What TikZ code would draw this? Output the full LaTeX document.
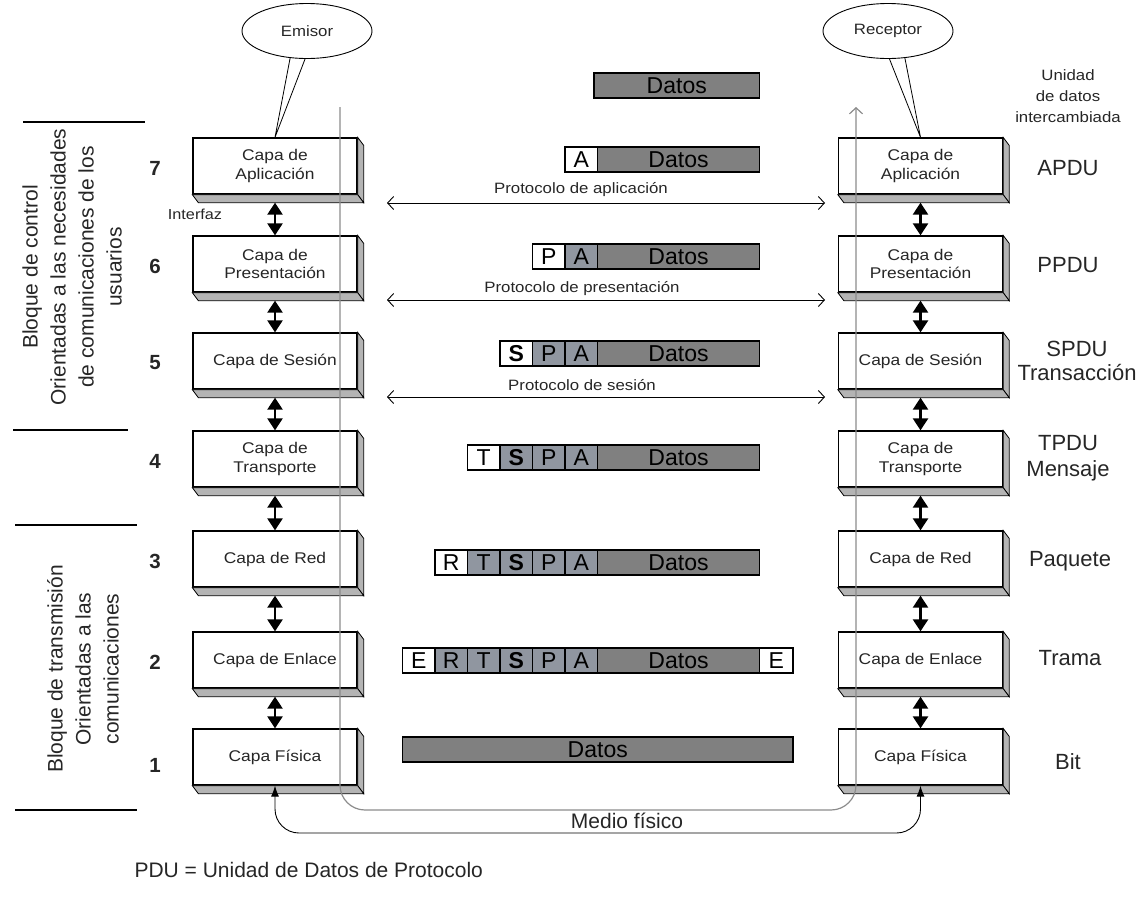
\documentclass[tikz,border=0pt]{standalone}
\usepackage{fontspec}
\setmainfont{Liberation Sans}
\newfontfamily\widefont[FakeStretch=1.12]{Liberation Sans}
\usetikzlibrary{shapes.geometric,arrows.meta,calc}

\definecolor{datagray}{HTML}{808080}
\definecolor{hdrgray}{HTML}{9096A0}
\definecolor{facegray}{HTML}{B4B4B4}
\definecolor{linegray}{HTML}{8C8C8C}
\definecolor{txtgray}{HTML}{262626}

% one OSI layer drawn as a slab: white front face, grey right and bottom faces
\newcommand\layer[4]{%
  \node[layerbox] (#1) at (#2,#3) {#4};
  \filldraw[fill=facegray, draw=black, line width=0.8pt]
    (#1.north east) -- ++(6,8) -- ([shift={(6,8)}]#1.south east) -- (#1.south east) -- cycle;
  \filldraw[fill=facegray, draw=black, line width=0.8pt]
    (#1.south west) -- (#1.south east) -- ([shift={(6,8)}]#1.south east) -- ([shift={(6,8)}]#1.south west) -- cycle;
}
% one field of a protocol data unit: name, left, right, y, fill, text
\newcommand\cell[6]{%
  \node[cellbox, fill=#5, minimum width={#3pt-#2pt}] (#1) at ({(#2+#3)/2},#4) {#6};}

\begin{document}
\begin{tikzpicture}[x=1pt,y=-1pt,
  layerbox/.style={draw=black, line width=1.3pt, fill=white, minimum width=164pt,
    minimum height=56pt, inner sep=0pt, align=center, text=txtgray,
    font=\widefont\fontsize{15.5}{18.5}\selectfont},
  cellbox/.style={draw=black, line width=1.2pt, minimum height=25pt, inner sep=0pt,
    text=black, font=\fontsize{23}{23}\selectfont},
  dbl/.style={line width=2.4pt, {Triangle[width=15pt,length=12pt]}-{Triangle[width=15pt,length=12pt]}},
  proto/.style={line width=0.9pt, {Straight Barb[length=6pt,width=13pt]}-{Straight Barb[length=6pt,width=13pt]}},
  protolabel/.style={text=txtgray, font=\widefont\fontsize{15}{18}\selectfont},
  grayline/.style={draw=linegray, line width=1.2pt},
  pdu/.style={text=txtgray, font=\fontsize{22}{24}\selectfont, align=center},
  num/.style={text=txtgray, font=\bfseries\fontsize{20.5}{22}\selectfont},
  bloque/.style={text=txtgray, rotate=90, align=center, font=\fontsize{21}{28}\selectfont},
  callout/.style={draw=black, ellipse, line width=0.9pt, minimum width=130pt,
    minimum height=55pt, inner sep=0pt, text=txtgray, font=\widefont\fontsize{15}{18}\selectfont}
]
\useasboundingbox (0,0) rectangle (1148,898);

% ---- sender stack
\layer{L7}{275}{166}{Capa de\\Aplicación}
\layer{L6}{275}{264}{Capa de\\Presentación}
\layer{L5}{275}{361}{Capa de Sesión}
\layer{L4}{275}{459}{Capa de\\Transporte}
\layer{L3}{275}{559}{Capa de Red}
\layer{L2}{275}{660}{Capa de Enlace}
\layer{L1}{275}{757}{Capa Física}

% ---- receiver stack
\layer{R7}{920.5}{166}{Capa de\\Aplicación}
\layer{R6}{920.5}{264}{Capa de\\Presentación}
\layer{R5}{920.5}{361}{Capa de Sesión}
\layer{R4}{920.5}{459}{Capa de\\Transporte}
\layer{R3}{920.5}{559}{Capa de Red}
\layer{R2}{920.5}{660}{Capa de Enlace}
\layer{R1}{920.5}{757}{Capa Física}

% interfaces between adjacent layers
\foreach \a/\b in {7/6,6/5,5/4,4/3,3/2,2/1}{
  \draw[dbl] ([yshift=-8pt]L\a.south) -- (L\b.north);
  \draw[dbl] ([yshift=-8pt]R\a.south) -- (R\b.north);
}
\node[text=txtgray, font=\widefont\fontsize{14.5}{16}\selectfont] (interfaz) at (195,214) {Interfaz};

% ---- layer numbers
\node[num] (n7) at (155,168) {7};
\node[num] (n6) at (155,266) {6};
\node[num] (n5) at (155,363) {5};
\node[num] (n4) at (155,461) {4};
\node[num] (n3) at (155,561) {3};
\node[num] (n2) at (155,662) {2};
\node[num] (n1) at (155,765) {1};

% ---- functional blocks on the left
\draw[line width=1.3pt] (23,122) -- (145,122);
\draw[line width=1.3pt] (13,430) -- (128,430);
\draw[line width=1.3pt] (15,525) -- (137,525);
\draw[line width=1.3pt] (15,810) -- (137,810);
\node[bloque] (bctrl) at (72,267) {Bloque de control\\Orientadas a las necesidades\\de comunicaciones de los\\usuarios};
\node[bloque] (btrans) at (83,669) {Bloque de transmisión\\Orientadas a las\\comunicaciones};

% ---- end users
\node[callout] (emisor) at (307,31) {Emisor};
\node[callout] (receptor) at (888,31) {Receptor};
\draw[line width=0.8pt] (emisor.-122) -- (L7.north) -- (emisor.-94);
\draw[line width=0.8pt] (receptor.-87) -- (R7.north) -- (receptor.-58);

% ---- protocol data units
\cell{d0}{594}{759.5}{85.5}{datagray}{Datos}

\cell{a7}{565}{597.5}{159.5}{white}{A}
\cell{d7}{597.5}{759.5}{159.5}{datagray}{Datos}

\cell{p6}{532.5}{565}{256.5}{white}{P}
\cell{a6}{565}{597.5}{256.5}{hdrgray}{A}
\cell{d6}{597.5}{759.5}{256.5}{datagray}{Datos}

\cell{s5}{500}{532.5}{353.5}{white}{\bfseries S}
\cell{p5}{532.5}{565}{353.5}{hdrgray}{P}
\cell{a5}{565}{597.5}{353.5}{hdrgray}{A}
\cell{d5}{597.5}{759.5}{353.5}{datagray}{Datos}

\cell{t4}{467.5}{500}{457.5}{white}{T}
\cell{s4}{500}{532.5}{457.5}{hdrgray}{\bfseries S}
\cell{p4}{532.5}{565}{457.5}{hdrgray}{P}
\cell{a4}{565}{597.5}{457.5}{hdrgray}{A}
\cell{d4}{597.5}{759.5}{457.5}{datagray}{Datos}

\cell{r3}{435}{467.5}{562.5}{white}{R}
\cell{t3}{467.5}{500}{562.5}{hdrgray}{T}
\cell{s3}{500}{532.5}{562.5}{hdrgray}{\bfseries S}
\cell{p3}{532.5}{565}{562.5}{hdrgray}{P}
\cell{a3}{565}{597.5}{562.5}{hdrgray}{A}
\cell{d3}{597.5}{759.5}{562.5}{datagray}{Datos}

\cell{e2}{402.5}{435}{660.5}{white}{E}
\cell{r2}{435}{467.5}{660.5}{hdrgray}{R}
\cell{t2}{467.5}{500}{660.5}{hdrgray}{T}
\cell{s2}{500}{532.5}{660.5}{hdrgray}{\bfseries S}
\cell{p2}{532.5}{565}{660.5}{hdrgray}{P}
\cell{a2}{565}{597.5}{660.5}{hdrgray}{A}
\cell{d2}{597.5}{759.5}{660.5}{datagray}{Datos}
\cell{f2}{759.5}{793}{660.5}{white}{E}

\cell{d1}{402.5}{793}{749.5}{datagray}{Datos}

% ---- peer protocols
\coordinate (pa1) at (387,203);  \coordinate (pa2) at (825,203);
\coordinate (pp1) at (387,300);  \coordinate (pp2) at (825,300);
\coordinate (ps1) at (387,397);  \coordinate (ps2) at (825,397);
\draw[proto] (pa1) -- (pa2);
\draw[proto] (pp1) -- (pp2);
\draw[proto] (ps1) -- (ps2);
\node[protolabel] (lpa) at (581,190) {Protocolo de aplicación};
\node[protolabel] (lpp) at (582,289) {Protocolo de presentación};
\node[protolabel] (lps) at (582,385) {Protocolo de sesión};

% ---- path of the data through both stacks
\coordinate (gL) at (340,107);
\coordinate (gR) at (856,107);
\coordinate (gB) at (600,810);
\draw[grayline, rounded corners=25pt, -{Straight Barb[length=6pt,width=13pt]}] (gL) |- (gB) -| (gR);

% ---- physical medium
\coordinate (mB) at (600,833);
\draw[line width=0.9pt, rounded corners=24pt, {Latex[length=11pt,width=8pt]}-{Latex[length=11pt,width=8pt]}]
  (L1.south) |- (mB) -| (R1.south);
\node[text=txtgray, font=\fontsize{21}{24}\selectfont] (medio) at (627,821) {Medio físico};

% ---- exchanged data unit names
\node[text=txtgray, align=center, font=\widefont\fontsize{15}{21}\selectfont] (unidad) at (1068,96) {Unidad\\de datos\\intercambiada};
\node[pdu] (u7) at (1068,168) {APDU};
\node[pdu] (u6) at (1068,265) {PPDU};
\node[pdu, font=\fontsize{22}{24}\selectfont] (u5) at (1077,361) {SPDU\\Transacción};
\node[pdu, font=\fontsize{22}{26}\selectfont] (u4) at (1068,458) {TPDU\\Mensaje};
\node[pdu] (u3) at (1070,561) {Paquete};
\node[pdu] (u2) at (1070,658) {Trama};
\node[pdu] (u1) at (1068,762) {Bit};

\node[anchor=west, text=txtgray, font=\fontsize{21}{24}\selectfont] (nota) at (131,870) {PDU = Unidad de Datos de Protocolo};
\end{tikzpicture}
\end{document}
